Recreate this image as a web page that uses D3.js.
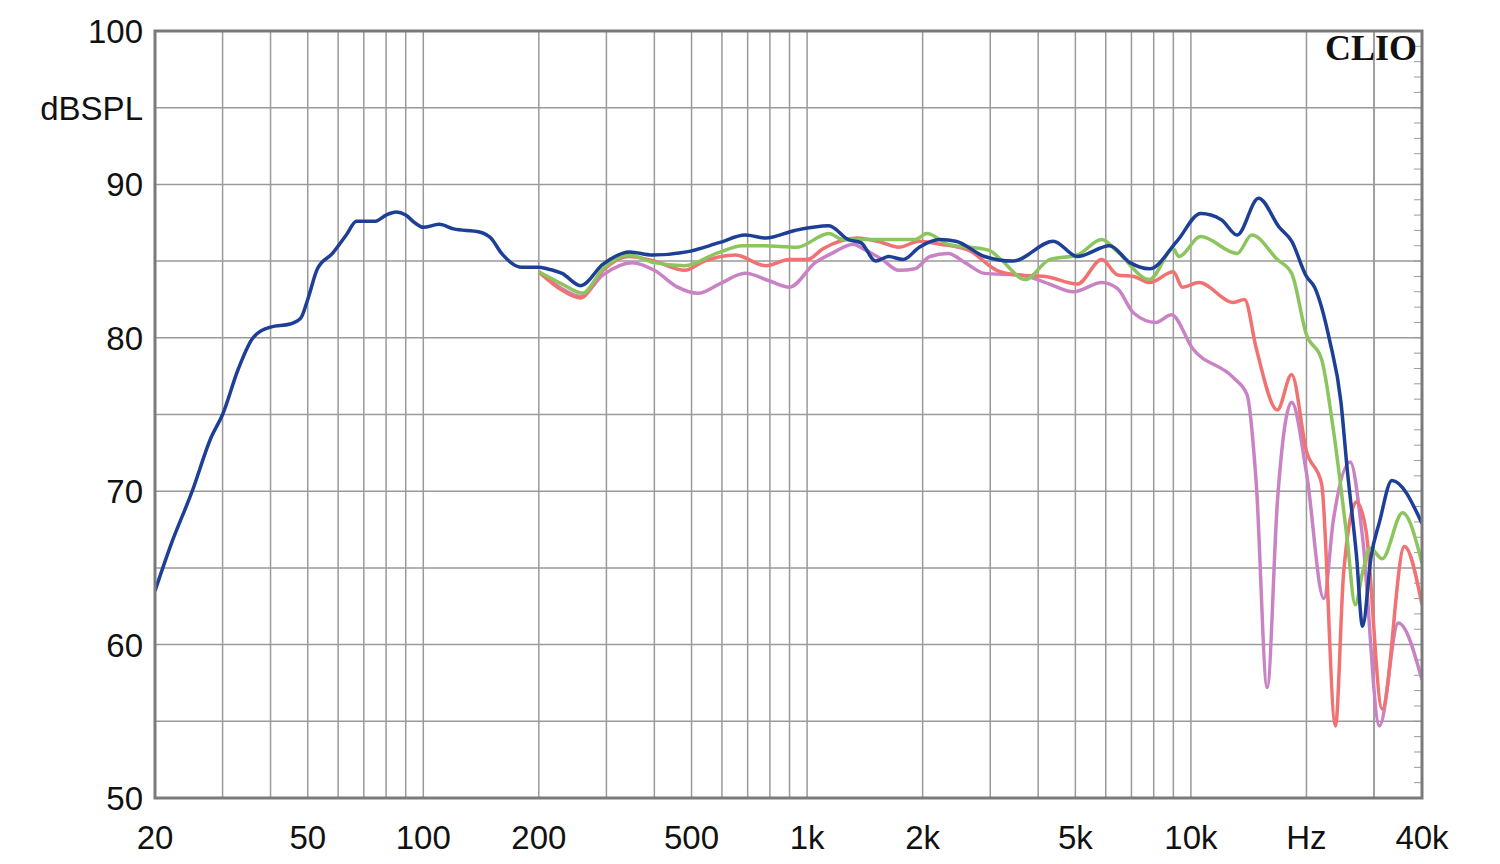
<!DOCTYPE html>
<html><head><meta charset="utf-8">
<script src="https://cdn.jsdelivr.net/npm/d3@7"></script>
<style>body{margin:0;background:#fff}</style></head>
<body><svg id="c" width="1500" height="864"></svg>
<script>
const xTickLabels = [[20,"20"],[50,"50"],[100,"100"],[200,"200"],[500,"500"],[1000,"1k"],[2000,"2k"],[5000,"5k"],[10000,"10k"],[20000,"Hz"],[40000,"40k"]];
const yTicks = [50,60,70,80,90,100];
const blue = [[20,63.5],[22,66.5],[25,70],[28,73.5],[30,75],[33,78],[36,80],[40,80.7],[45,80.9],[48,81.3],[50,82.5],[53,84.5],[58,85.5],[63,86.7],[67,87.6],[75,87.6],[80,88],[85,88.2],[90,88],[95,87.5],[100,87.2],[110,87.4],[120,87.1],[140,86.9],[150,86.5],[160,85.5],[180,84.6],[200,84.6],[210,84.5],[230,84.2],[257,83.4],[294,84.8],[345,85.6],[395,85.4],[485,85.6],[590,86.2],[690,86.7],[780,86.5],[930,87],[1140,87.3],[1280,86.4],[1380,86.2],[1510,85],[1630,85.3],[1780,85.1],[1960,85.9],[2220,86.4],[2440,86.3],[2900,85.3],[3440,85],[4380,86.3],[5060,85.3],[6140,86],[6940,84.9],[7800,84.5],[9200,86.3],[10600,88.1],[12000,87.7],[13200,86.7],[15000,89.1],[17000,87.2],[18300,86.3],[20000,84],[21000,83.3],[23000,79.8],[24600,75.8],[25500,71.6],[27000,65.8],[28000,61.2],[29500,65.8],[31000,68],[33400,70.7],[40000,67.9]];
const green = [[200,84.3],[230,83.5],[260,82.9],[294,84.5],[343,85.4],[400,84.9],[480,84.7],[580,85.5],[680,86],[770,86],[940,85.9],[1140,86.8],[1240,86.4],[1350,86.4],[1570,86.4],[1910,86.4],[2050,86.8],[2330,86.1],[2980,85.7],[3200,85.1],[3700,83.8],[4280,85.1],[5060,85.4],[5860,86.4],[6440,85.6],[7800,83.8],[9000,85.8],[9300,85.3],[10600,86.6],[13200,85.5],[14400,86.7],[16800,85.1],[18300,84.2],[20000,80.2],[21900,78.6],[23500,74],[25500,67],[26800,62.6],[28000,64.7],[29300,66.3],[31500,65.6],[35600,68.6],[40000,65.3]];
const red = [[200,84.3],[230,83.1],[257,82.6],[294,84.4],[343,85.3],[400,85],[480,84.4],[540,85],[650,85.4],[780,84.7],[900,85.1],[1000,85.1],[1100,85.8],[1350,86.5],[1570,86.2],[1730,85.9],[1960,86.3],[2220,86.1],[2640,85.7],[3120,84.4],[3530,84.1],[4180,84],[5060,83.5],[5860,85.1],[6440,84.1],[7100,84],[7800,83.6],[9000,84.3],[9500,83.3],[10500,83.6],[12900,82.3],[13800,82.5],[14800,79.3],[16800,75.3],[18300,77.6],[20000,72.6],[21900,70.5],[23800,54.7],[25000,64.7],[27000,69.3],[28600,67.4],[31500,55.8],[36000,66.4],[40000,62.6]];
const purple = [[200,84.3],[230,83.2],[257,82.7],[294,84.1],[350,84.9],[400,84.4],[460,83.3],[520,82.9],[590,83.5],[690,84.2],[800,83.7],[900,83.3],[1050,84.9],[1160,85.5],[1320,86.1],[1400,85.8],[1570,85.1],[1730,84.4],[1910,84.5],[2090,85.3],[2330,85.5],[2580,84.9],[2900,84.2],[3600,84.1],[4180,83.6],[4950,83],[5860,83.6],[6440,83.2],[7100,81.6],[8100,81],[8900,81.5],[10100,79.3],[12900,77.4],[14000,76.3],[14800,70.5],[15800,57.2],[16800,69.3],[18300,75.8],[20000,71.2],[22200,63],[23500,68.1],[26000,71.9],[28000,67],[31000,54.7],[34700,61.4],[40000,57.7]];
const seriesList = [[purple,"#c983c4"],[red,"#f07272"],[green,"#8cc45e"],[blue,"#1e3f96"]];

const svg = d3.select("#c");
const L=155,R=1422,T=31,B=798;
const x = d3.scaleLog().domain([20,40000]).range([L,R]);
const y = d3.scaleLinear().domain([50,100]).range([B,T]);
const g = svg.append("g");
const vGrid=[];
for(const dec of [10,100,1000,10000]) for(let k=1;k<=9;k++){const f=k*dec; if(f>20&&f<40000) vGrid.push(f);}
vGrid.push(30000);
g.selectAll(".v").data(vGrid).join("line").attr("x1",d=>x(d)).attr("x2",d=>x(d)).attr("y1",T).attr("y2",B).attr("stroke","#9a9a9a").attr("stroke-width",1.5);
const hGrid=d3.range(55,100,5);
g.selectAll(".h").data(hGrid).join("line").attr("x1",L).attr("x2",R).attr("y1",d=>y(d)).attr("y2",d=>y(d)).attr("stroke","#9a9a9a").attr("stroke-width",1.5);
g.selectAll(".rt").data(d3.range(51,100,1)).join("line").attr("x1",R-8).attr("x2",R).attr("y1",d=>y(d)).attr("y2",d=>y(d)).attr("stroke","#9a9a9a").attr("stroke-width",1);
const line = d3.line().x(d=>x(d[0])).y(d=>y(d[1])).curve(d3.curveMonotoneX);
svg.append("clipPath").attr("id","cp").append("rect").attr("x",L).attr("y",T).attr("width",R-L).attr("height",B-T);
svg.append("g").attr("clip-path","url(#cp)").selectAll("path").data(seriesList).join("path")
  .attr("d",d=>line(d[0])).attr("fill","none").attr("stroke",d=>d[1]).attr("stroke-width",3.5).attr("stroke-linejoin","round");
svg.append("rect").attr("x",L).attr("y",T).attr("width",R-L).attr("height",B-T).attr("fill","none").attr("stroke","#7a7a7a").attr("stroke-width",3);
const font="Liberation Sans, Arial, sans-serif";
svg.selectAll(".yl").data(yTicks).join("text").attr("x",143).attr("y",d=>y(d)+12).attr("text-anchor","end").attr("font-family",font).attr("font-size",33).attr("fill","#111").text(d=>d);
svg.append("text").attr("x",143).attr("y",y(95)+12).attr("text-anchor","end").attr("font-family",font).attr("font-size",33).attr("fill","#111").text("dBSPL");
svg.selectAll(".xl").data(xTickLabels).join("text").attr("x",d=>x(d[0])).attr("y",849).attr("text-anchor","middle").attr("font-family",font).attr("font-size",33).attr("fill","#111").text(d=>d[1]);
svg.append("text").attr("x",1417).attr("y",60).attr("text-anchor","end").attr("font-family","Liberation Serif, Times New Roman, serif").attr("font-weight","bold").attr("font-size",36).attr("fill","#111").text("CLIO");
</script></body></html>
